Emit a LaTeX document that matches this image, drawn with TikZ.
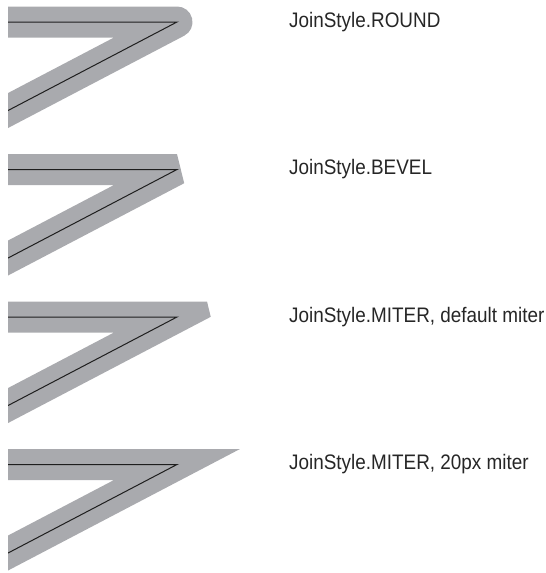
\documentclass[tikz,border=0pt]{standalone}
\usepackage{fontspec}
\setmainfont{Liberation Sans}[FakeStretch=0.9]
\definecolor{bandgray}{RGB}{169,170,174}
\definecolor{coreline}{RGB}{30,30,30}
\begin{document}
\begin{tikzpicture}[x=1pt,y=-1pt,
  band/.style={line width=31pt, draw=bandgray, line cap=butt},
  core/.style={line width=1pt, draw=coreline, line cap=butt},
  lbl/.style={anchor=base west, inner sep=0pt, font=\fontsize{21}{25}\selectfont, text=black!85}]
\useasboundingbox (0,0) rectangle (546,573);
% panel 1: round
\coordinate (s1) at (-20,22); \coordinate (v1) at (177,22); \coordinate (e1) at (-20,125.2);
\begin{scope}
\clip (8,-20) rectangle (546,600);
\draw[band, line join=round] (s1) -- (v1) -- (e1);
\draw[core] (s1) -- (v1) -- (e1);
\end{scope}
\node[lbl] (l1) at (289,27) {JoinStyle.ROUND};
% panel 2: bevel
\coordinate (s2) at (-20,169.5); \coordinate (v2) at (177,169.5); \coordinate (e2) at (-20,272.7);
\begin{scope}
\clip (8,-20) rectangle (546,600);
\draw[band, line join=bevel] (s2) -- (v2) -- (e2);
\draw[core] (s2) -- (v2) -- (e2);
\end{scope}
\node[lbl] (l2) at (289,174.5) {JoinStyle.BEVEL};
% panel 3: miter, default (clipped)
\coordinate (s3) at (-20,317); \coordinate (v3) at (177,317); \coordinate (e3) at (-20,420.2);
\begin{scope}
\clip (8,277) -- (201.1,277) -- (216.1,339) -- (216.1,447) -- (8,447) -- cycle;
\draw[band, line join=miter, miter limit=20] (s3) -- (v3) -- (e3);
\draw[core] (s3) -- (v3) -- (e3);
\end{scope}
\node[lbl] (l3) at (289,322) {JoinStyle.MITER, default miter};
% panel 4: miter 20
\coordinate (s4) at (-20,464.5); \coordinate (v4) at (177,464.5); \coordinate (e4) at (-20,567.7);
\begin{scope}
\clip (8,420) rectangle (546,600);
\draw[band, line join=miter, miter limit=20] (s4) -- (v4) -- (e4);
\draw[core] (s4) -- (v4) -- (e4);
\end{scope}
\node[lbl] (l4) at (289,469.5) {JoinStyle.MITER, 20px miter};
\end{tikzpicture}
\end{document}
